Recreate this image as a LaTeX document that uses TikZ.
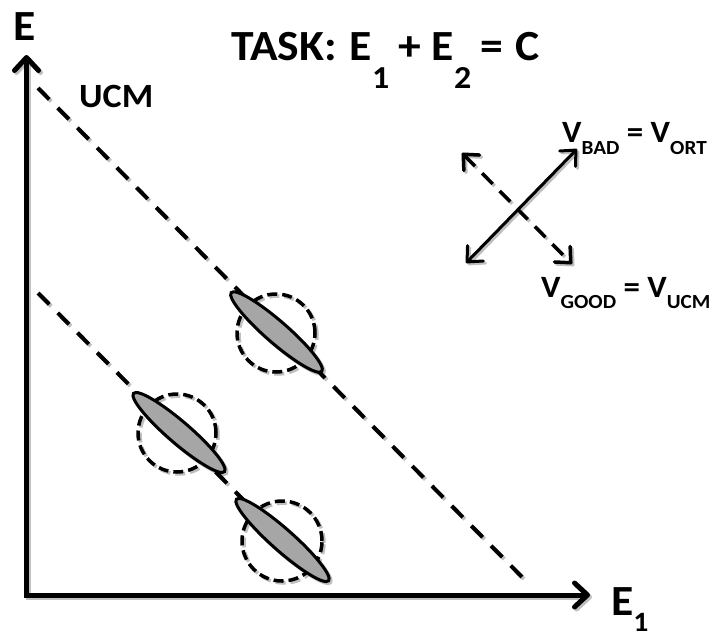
\documentclass[tikz,border=0pt]{standalone}
\usepackage{fontspec}
\setmainfont{Carlito}[FakeStretch=1.06]
\usetikzlibrary{arrows.meta,shapes.geometric}
\newcommand\inkc{black}
\newcommand\fillc{black!35}
\newcommand\subtx[3]{\raisebox{-#1pt}{\fontsize{#2}{#2}\selectfont #3}}
\tikzset{
  axisln/.style={draw=\inkc, line width=5pt, line join=miter,
    {Straight Barb[length=13pt,width=24pt,round]}-{Straight Barb[length=13pt,width=24pt,round]}},
  diagln/.style={draw=\inkc, line width=4pt, dash pattern=on 16pt off 12pt},
  ringc/.style={circle, draw=\inkc, line width=3.5pt, dash pattern=on 10pt off 5pt,
    minimum size=78pt, inner sep=0pt},
  ellip/.style={ellipse, draw=\inkc, fill=\fillc, line width=3pt,
    minimum width=120pt, minimum height=22pt, inner sep=0pt},
  solidarr/.style={draw=\inkc, line width=3pt,
    {Straight Barb[length=12pt,width=22pt,round]}-{Straight Barb[length=12pt,width=22pt,round]}},
  dasharr/.style={draw=\inkc, line width=3.5pt, dash pattern=on 15pt off 10pt,
    {Straight Barb[length=12pt,width=22pt,round]}-{Straight Barb[length=12pt,width=22pt,round]}},
  lbl/.style={anchor=base west, inner sep=0pt, text=black},
}
\newcommand\figshapes{%
  \coordinate (u1) at (38,88);
  \coordinate (u2) at (523,578);
  \coordinate (l1) at (38,293);
  \coordinate (l2) at (318,575);
  \draw[diagln] (u1) -- (u2);
  \draw[diagln] (l1) -- (l2);
  \node[ringc] (c1) at (276,333) {};
  \node[ringc] (c2) at (177,433) {};
  \node[ringc, minimum size=80pt] (c3) at (282,541) {};
  \node[ellip, rotate=-41] (e1) at (276.5,332) {};
  \node[ellip, rotate=-40.7] (e2) at (179,432.5) {};
  \node[ellip, rotate=-41.5, minimum width=123pt] (e3) at (282.5,540) {};
  \coordinate (ax0) at (26.5,55);
  \coordinate (ax1) at (26.5,595);
  \coordinate (ax2) at (590,595);
  \draw[axisln] (ax0) -- (ax1) -- (ax2);
  \coordinate (sa) at (466,263);
  \coordinate (sb) at (577,149);
  \draw[solidarr] (sa) -- (sb);
  \coordinate (da) at (462,153);
  \coordinate (db) at (572,264);
  \draw[dasharr] (da) -- (db);
}
\begin{document}
\begin{tikzpicture}[x=1pt,y=-1pt]
  \useasboundingbox (0,0) rectangle (711,637);
  \fill[white] (0,0) rectangle (711,637);
  \begin{scope}[transform canvas={shift={(2,2)}}]
    \renewcommand\inkc{black!25}\renewcommand\fillc{black!25}
    \figshapes
  \end{scope}
  \figshapes
  \node[lbl, font=\bfseries\fontsize{43}{43}\selectfont] (ylab) at (13,40) {E};
  \node[lbl, font=\bfseries\fontsize{34}{34}\selectfont] (ucm) at (79,107) {UCM};
  \node[lbl, font=\bfseries\fontsize{43}{43}\selectfont] (title) at (231,60)
    {TASK:\hspace{13pt}E\subtx{28}{32}{1}\hspace{9pt}+\hspace{11pt}E\subtx{28}{32}{2}\hspace{9pt}=\hspace{12pt}C};
  \node[lbl, font=\bfseries\fontsize{43}{43}\selectfont] (xlab) at (611,615)
    {E\subtx{16}{28}{1}};
  \node[lbl, font=\bfseries\fontsize{31}{31}\selectfont] (vbad) at (562,142)
    {V\subtx{12}{20}{BAD} = V\subtx{12}{20}{ORT}};
  \node[lbl, font=\bfseries\fontsize{31}{31}\selectfont] (vgood) at (541,297)
    {V\subtx{11}{20}{GOOD} = V\subtx{11}{20}{UCM}};
\end{tikzpicture}
\end{document}
